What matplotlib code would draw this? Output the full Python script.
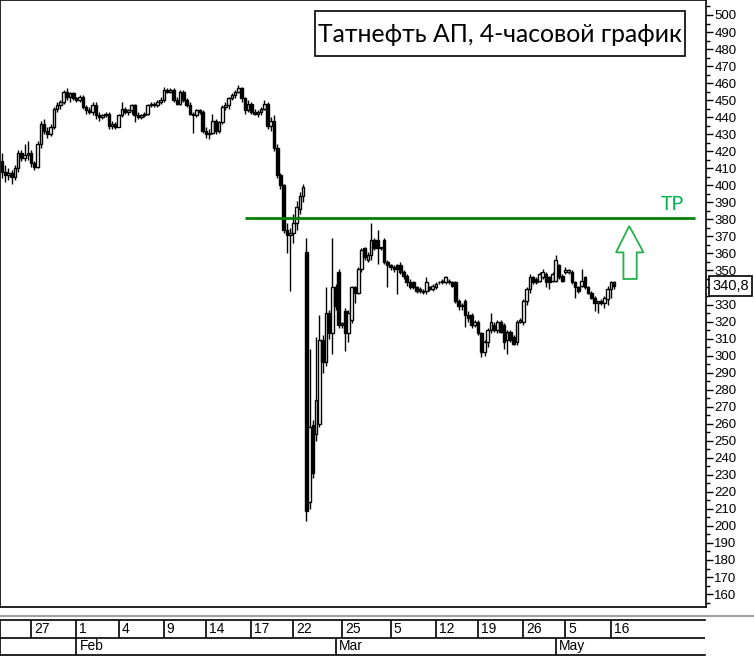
import matplotlib
matplotlib.use("Agg")
import matplotlib.pyplot as plt
from matplotlib.patches import Polygon, Rectangle
from matplotlib.lines import Line2D
from matplotlib.transforms import blended_transform_factory
from matplotlib.ticker import MultipleLocator, FuncFormatter

# 4-hour candles, oldest first
opens = [414, 408, 406, 407, 405, 410, 419, 416, 418, 419,
         413, 411, 424, 436, 432, 430, 434, 445, 447, 449,
         455, 452, 454, 451, 450, 452, 446, 444, 443, 447,
         441, 440, 441, 442, 435, 436, 434, 441, 445, 443,
         444, 447, 441, 440, 441, 442, 447, 448, 447, 449,
         450, 456, 455, 456, 450, 448, 455, 450, 447, 442,
         441, 444, 443, 432, 430, 431, 438, 432, 437, 446,
         447, 451, 453, 455, 457, 451, 444, 448, 443, 442,
         443, 445, 448, 435, 438, 422, 406, 400, 374, 371,
         372, 378, 386, 394, 361, 214, 259, 254, 260, 309,
         296, 325, 313, 340, 349, 318, 326, 313, 321, 340,
         337, 351, 363, 356, 359, 368, 368, 363, 368, 355,
         353, 352, 353, 353, 349, 347, 343, 343, 340, 339,
         338, 338, 340, 339, 340, 343, 343, 343, 344, 343,
         343, 332, 329, 332, 324, 324, 318, 320, 313, 302,
         308, 315, 318, 315, 320, 318, 309, 314, 311, 308,
         320, 320, 332, 339, 346, 345, 344, 346, 348, 346,
         344, 344, 353, 347, 349, 349, 349, 343, 340, 341,
         346, 340, 337, 334, 331, 332, 331, 333, 339, 343]
highs = [419, 412, 410, 409, 412, 421, 421, 424, 426, 421,
         414, 426, 438, 439, 434, 436, 446, 449, 450, 456,
         457, 455, 455, 452, 453, 453, 447, 446, 449, 449,
         443, 442, 443, 443, 438, 437, 442, 449, 446, 445,
         448, 448, 443, 442, 443, 448, 449, 449, 450, 452,
         458, 457, 457, 457, 452, 456, 456, 451, 449, 443,
         445, 445, 444, 434, 433, 442, 439, 438, 447, 449,
         452, 454, 456, 459, 458, 452, 450, 449, 445, 444,
         446, 450, 449, 440, 441, 424, 407, 401, 378, 375,
         383, 391, 396, 401, 369, 304, 262, 311, 324, 312,
         340, 327, 369, 342, 351, 320, 328, 327, 341, 341,
         352, 363, 364, 361, 378, 369, 374, 364, 369, 356,
         354, 353, 354, 355, 350, 348, 345, 344, 341, 340,
         339, 346, 341, 342, 343, 344, 345, 347, 345, 344,
         344, 333, 331, 333, 326, 325, 321, 321, 314, 309,
         316, 325, 320, 321, 321, 319, 315, 315, 312, 321,
         322, 333, 340, 348, 347, 346, 349, 351, 349, 347,
         349, 359, 354, 348, 352, 351, 350, 344, 341, 351,
         347, 341, 338, 335, 332, 333, 335, 341, 344, 344]
lows = [404, 402, 403, 401, 403, 408, 414, 414, 415, 411,
        409, 410, 422, 430, 428, 429, 433, 443, 445, 448,
        450, 449, 450, 449, 449, 445, 442, 442, 441, 439,
        438, 439, 440, 433, 433, 433, 434, 440, 442, 441,
        442, 437, 439, 439, 440, 441, 446, 446, 446, 448,
        449, 454, 454, 449, 447, 447, 449, 446, 441, 431,
        440, 442, 431, 428, 427, 430, 430, 431, 436, 444,
        445, 450, 451, 454, 449, 442, 443, 442, 441, 440,
        441, 444, 433, 432, 420, 404, 398, 372, 360, 338,
        366, 374, 383, 390, 203, 210, 228, 250, 258, 290,
        294, 310, 301, 327, 316, 316, 303, 308, 319, 331,
        336, 349, 356, 355, 356, 362, 354, 362, 354, 340,
        350, 349, 336, 348, 345, 341, 339, 339, 337, 337,
        336, 336, 338, 338, 339, 342, 342, 342, 342, 340,
        331, 327, 327, 317, 320, 316, 317, 312, 299, 300,
        305, 313, 314, 313, 313, 304, 301, 308, 306, 306,
        319, 318, 330, 337, 342, 342, 343, 345, 340, 339,
        343, 343, 345, 343, 348, 348, 342, 334, 337, 340,
        339, 336, 333, 326, 325, 330, 328, 330, 334, 339]
closes = [408, 406, 407, 405, 410, 419, 416, 418, 419, 413,
          411, 424, 436, 432, 430, 434, 445, 447, 449, 455,
          452, 454, 451, 450, 452, 446, 444, 443, 447, 441,
          440, 441, 442, 435, 436, 434, 441, 445, 443, 444,
          447, 441, 440, 441, 442, 447, 448, 447, 449, 450,
          456, 455, 456, 450, 448, 455, 450, 447, 442, 441,
          444, 443, 432, 430, 431, 438, 432, 437, 446, 447,
          451, 453, 455, 457, 451, 444, 448, 443, 442, 443,
          445, 448, 435, 438, 422, 406, 400, 374, 371, 372,
          378, 387, 394, 399, 209, 258, 231, 274, 309, 296,
          325, 313, 340, 329, 318, 319, 313, 325, 340, 337,
          351, 362, 358, 359, 368, 363, 363, 363.5, 355, 353,
          352, 351, 351, 349, 347, 343, 340, 340, 338, 338,
          337.5, 343, 339, 341, 342, 343, 344, 346, 343, 341,
          332, 329, 330, 324, 322, 318, 320, 313, 302, 308,
          315, 320, 315, 320, 314, 308, 314, 309, 307, 320,
          321, 332, 339, 346, 343, 343, 348, 349, 343, 343,
          348, 356, 346, 344, 350, 350, 343, 340, 338, 344,
          340, 337, 334, 331, 332, 331, 334, 339, 343, 340.8]

# date scale (candle index where each day / month starts)
day_pos = [9, 23, 36, 50, 63, 77, 90, 105, 120, 134, 147, 161, 174, 188]
day_labels = ["27", "1", "4", "9", "14", "17", "22", "25", "5", "12", "19", "26", "5", "16"]
month_pos = [23, 103, 171]
month_labels = ["Feb", "Mar", "May"]

tp_level = 381
last_price = 340.8

W, H = 754, 657
fig = plt.figure(figsize=(W / 100, H / 100), dpi=100)
ax = fig.add_axes([0, 50 / H, 706 / W, 607 / H])

narrow = ["Liberation Sans Narrow", "Liberation Sans", "DejaVu Sans"]

x = list(range(len(closes)))
ax.vlines(x, lows, highs, color="black", linewidth=1.0, zorder=2)
bottoms = [min(o, c) for o, c in zip(opens, closes)]
heights = [abs(c - o) for o, c in zip(opens, closes)]
faces = ["white" if c >= o else "black" for o, c in zip(opens, closes)]
ax.bar(x, heights, bottom=bottoms, width=0.8, color=faces,
       edgecolor="black", linewidth=1.0, zorder=3)

ax.set_xlim(-0.62, 217.4)
ax.set_ylim(152.4, 508.8)
ax.set_xticks([])
ax.yaxis.tick_right()
ax.yaxis.set_major_locator(MultipleLocator(10))
ax.yaxis.set_minor_locator(MultipleLocator(5))
# the 340 label sits under the last-price box
ax.yaxis.set_major_formatter(FuncFormatter(lambda v, p: "" if round(v) == 340 else f"{v:.0f}"))
ax.tick_params(axis="y", which="major", length=5, width=1, pad=1, labelsize=9.5)
ax.tick_params(axis="y", which="minor", length=3, width=1)
for lab in ax.get_yticklabels():
    lab.set_family(narrow)
for s in ax.spines.values():
    s.set_linewidth(1.2)

# TP level
ax.hlines(tp_level, 75, 214, color="#008000", linewidth=2, zorder=4)
ax.text(207, tp_level + 3, "TP", color="#00b050", fontsize=14,
        family="Lato", ha="center", va="bottom")

# hollow arrow up
arrow = Polygon([(193.7, 376.1), (198.1, 360.6), (196.0, 360.6), (196.0, 345.0),
                 (191.9, 345.0), (191.9, 360.6), (189.6, 360.6)],
                closed=True, facecolor="none", edgecolor="#22b14c", linewidth=1.3)
ax.add_patch(arrow)

# current price box
tr = blended_transform_factory(ax.transAxes, ax.transData)
ax.text(1.009, last_price, "340,8", transform=tr, fontsize=10.5, family=narrow,
        ha="left", va="center", clip_on=False, zorder=10,
        bbox=dict(boxstyle="square,pad=0.2", facecolor="white", edgecolor="black", linewidth=1.2))

# title box
fig.add_artist(Rectangle((315 / W, 1 - 56 / H), 370 / W, 45 / H, transform=fig.transFigure,
                         facecolor="white", edgecolor="black", linewidth=1.2))
fig.text(500 / W, 1 - 34 / H, "Татнефть АП, 4-часовой график", family="Lato",
         fontsize=17.8, ha="center", va="center")

# separator
fig.add_artist(Line2D([0, 1], [1 - 616 / H] * 2, color="#a0a0a0", linewidth=1.5,
                      transform=fig.transFigure))

# date axis
ax2 = fig.add_axes([0, 2 / H, 705 / W, 35 / H])
ax2.set_xlim(-0.62, 217.1)
ax2.set_ylim(0, 2)
ax2.set_xticks([])
ax2.set_yticks([])
ax2.spines["right"].set_visible(False)
for s in ax2.spines.values():
    s.set_linewidth(1.2)
ax2.axhline(1, color="black", linewidth=1.2)
ax2.vlines(day_pos, 1, 2, color="black", linewidth=1.2)
ax2.vlines(month_pos, 0, 1, color="black", linewidth=1.2)
for p, t in zip(day_pos, day_labels):
    ax2.text(p + 0.9, 1.5, t, fontsize=10, family=narrow, ha="left", va="center")
for p, t in zip(month_pos, month_labels):
    ax2.text(p + 0.9, 0.5, t, fontsize=10, family=narrow, ha="left", va="center")

fig.savefig("out.png", dpi=100)
